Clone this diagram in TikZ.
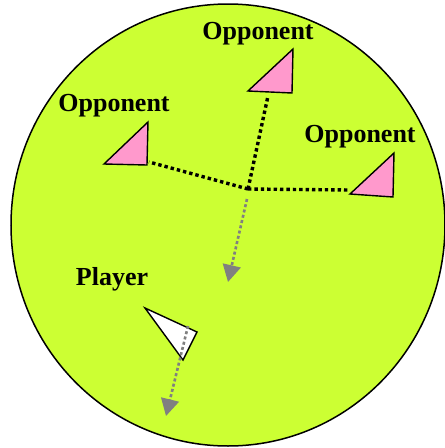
\documentclass[tikz,border=0pt]{standalone}
\usepackage{fontspec}
\setmainfont{Liberation Serif}
\usetikzlibrary{arrows.meta}
\definecolor{field}{RGB}{204,255,51}
\definecolor{opppink}{RGB}{255,153,204}
\tikzset{
  lbl/.style={font=\bfseries\fontsize{26}{28}\selectfont,inner sep=0pt},
  opp/.style={draw=black,line width=1.4pt,fill=opppink},
  plr/.style={draw=black,line width=1.4pt,fill=white},
  sight/.style={black,line width=3.4pt,dash pattern=on 3.4pt off 3pt},
  heading/.style={gray,line width=2.6pt,dash pattern=on 3pt off 2.4pt,-{Triangle[length=17pt,width=18pt]}}
}
\begin{document}
\begin{tikzpicture}[x=1pt,y=-1pt]
\useasboundingbox (0,0) rectangle (445,448);
% the field
\draw[fill=field,line width=1.5pt] (228,225) ellipse [x radius=217,y radius=221];
% opponents
\draw[opp] (248,91)--(293,49)--(292,93)--cycle; \node[lbl] (oppA) at (258,34) {Opponent};
\draw[opp] (104,164)--(148,122)--(147,165)--cycle; \node[lbl] (oppB) at (114,106) {Opponent};
\draw[opp] (350,194)--(394,153)--(393,197)--cycle; \node[lbl] (oppC) at (360,137) {Opponent};
% player
\draw[plr] (145,308)--(197,332)--(183,360)--cycle; \node[lbl] (plr) at (112,279) {Player};
% lines of sight
\coordinate (hub) at (248,189);
\coordinate (footA) at (268,96); \coordinate (footB) at (149,162); \coordinate (footC) at (350,190);
\draw[sight] (hub)--(footA); \draw[sight] (hub)--(footB); \draw[sight] (hub)--(footC);
% movement
\coordinate (hubgo) at (247,199); \coordinate (hubto) at (228,282);
\coordinate (plrgo) at (188,326); \coordinate (plrto) at (166,416);
\draw[heading] (hubgo)--(hubto);
\draw[heading] (plrgo)--(plrto);
\end{tikzpicture}
\end{document}
